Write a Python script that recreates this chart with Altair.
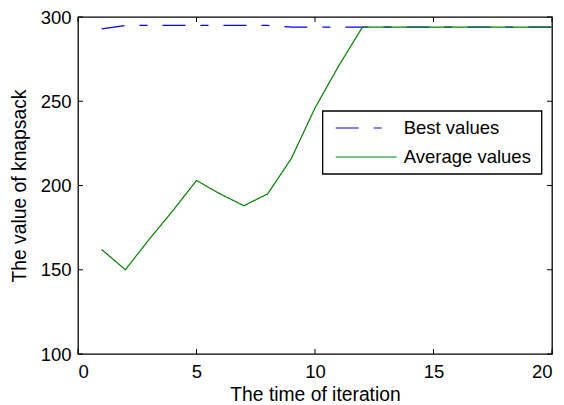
import altair as alt
import pandas as pd

iterations = list(range(1, 21))
best_values = [293, 295, 295, 295, 295, 295, 295, 295, 294, 294,
               294, 294, 294, 294, 294, 294, 294, 294, 294, 294]
average_values = [162, 150, 168, 185, 203, 195, 188, 195, 216, 246,
                  271, 294, 294, 294, 294, 294, 294, 294, 294, 294]
series_names = ["Best values", "Average values"]
x_ticks = [0, 5, 10, 15, 20]
y_ticks = [100, 150, 200, 250, 300]

W, H = 474, 337
FONT = "Liberation Sans"
FS = 18.5
TFS = 19.3
DASHES = [[23, 15, 8, 15], [1, 0]]
COLORS = ["#0000ff", "#008000"]

df = pd.DataFrame({
    "iter": iterations * 2,
    "value": best_values + average_values,
    "series": [series_names[0]] * 20 + [series_names[1]] * 20,
})

xs = alt.Scale(domain=[0, 20], nice=False, zero=False)
ys = alt.Scale(domain=[100, 300], nice=False, zero=False)

lines = alt.Chart(df).mark_line(strokeWidth=1.2, clip=True).encode(
    x=alt.X("iter:Q", scale=xs,
            axis=alt.Axis(values=x_ticks, title="The time of iteration", ticks=False,
                          tickSize=0, labelPadding=8, titlePadding=5, domain=False,
                          grid=False, format="d")),
    y=alt.Y("value:Q", scale=ys,
            axis=alt.Axis(values=y_ticks, title="The value of knapsack", ticks=False,
                          tickSize=0, labelPadding=7, titlePadding=11, domain=False,
                          grid=False, format="d")),
    color=alt.Color("series:N",
                    scale=alt.Scale(domain=series_names, range=COLORS),
                    legend=None),
    strokeDash=alt.StrokeDash("series:N",
                              scale=alt.Scale(domain=series_names, range=DASHES),
                              legend=None),
    order=alt.Order("series:N", sort="descending"),
)

xt = pd.DataFrame({"t": x_ticks})
yt = pd.DataFrame({"t": y_ticks})

xtick_bottom = alt.Chart(xt).mark_rule(color="black", strokeWidth=1).encode(
    x=alt.X("t:Q", scale=xs), y=alt.value(H), y2=alt.value(H - 5))
xtick_top = alt.Chart(xt).mark_rule(color="black", strokeWidth=1).encode(
    x=alt.X("t:Q", scale=xs), y=alt.value(0), y2=alt.value(5))
ytick_left = alt.Chart(yt).mark_rule(color="black", strokeWidth=1).encode(
    y=alt.Y("t:Q", scale=ys), x=alt.value(0), x2=alt.value(5))
ytick_right = alt.Chart(yt).mark_rule(color="black", strokeWidth=1).encode(
    y=alt.Y("t:Q", scale=ys), x=alt.value(W), x2=alt.value(W - 5))

# legend (drawn by hand)
LX0, LX1, LY0, LY1 = 244.7, 463.7, 94, 157
ROWS = [111, 140]
SX0, SX1, TX = 257.7, 318.7, 325.7
leg_df = pd.DataFrame({"k": [0]})
legend_box = alt.Chart(leg_df).mark_rect(fill="white", stroke="black", strokeWidth=1.3).encode(
    x=alt.value(LX0), x2=alt.value(LX1), y=alt.value(LY0), y2=alt.value(LY1))
legend_layers = [legend_box]
for i, name in enumerate(series_names):
    legend_layers.append(
        alt.Chart(leg_df).mark_rule(color=COLORS[i], strokeWidth=1.2, strokeDash=DASHES[i]).encode(
            x=alt.value(SX0), x2=alt.value(SX1), y=alt.value(ROWS[i])))
    legend_layers.append(
        alt.Chart(leg_df).mark_text(align="left", baseline="middle", font=FONT, fontSize=FS,
                                    color="black", text=name).encode(
            x=alt.value(TX), y=alt.value(ROWS[i])))

chart = alt.layer(lines, xtick_bottom, xtick_top, ytick_left, ytick_right, *legend_layers).properties(
    width=W, height=H,
    background="white",
    autosize=alt.AutoSizeParams(type="none"),
    padding={"left": 70, "top": 9, "right": 4, "bottom": 51},
).configure_view(
    stroke="black", strokeWidth=1.3, fill="white"
).configure_axis(
    labelFont=FONT, labelFontSize=FS, labelColor="black",
    titleFont=FONT, titleFontSize=TFS, titleColor="black", titleFontWeight="normal",
)

chart.save("out.html", embed_options={"renderer": "svg", "actions": False})
